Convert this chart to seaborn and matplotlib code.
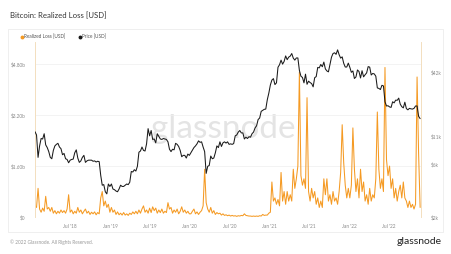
import numpy as np
import pandas as pd
import matplotlib
matplotlib.use("Agg")
import matplotlib.pyplot as plt
import matplotlib.dates as mdates
from matplotlib.lines import Line2D
from matplotlib.patches import Rectangle
import seaborn as sns

# ---------------- data (weekly samples) ----------------
start_date = "2018-01-22"

price_2018 = [12000, 11200, 7000, 8900, 10400, 10300, 11500, 9100, 8600, 7900,
              7000, 6800, 8100, 8900, 9200, 9400, 8700, 8400, 7400, 7600,
              6800, 6700, 6250, 6600, 6700, 6750, 7700, 8200, 6900, 6300,
              6500, 7000, 7300, 6300, 6500, 6600, 6600, 6600, 6450, 6500,
              6350, 6450, 6400, 4800, 3900, 3950, 3400, 3250, 4000, 3800]
price_2019 = [4000, 3600, 3550, 3450, 3400, 3600, 3900, 3800, 3800, 3900,
              4000, 3950, 4150, 5200, 5150, 5400, 5250, 5800, 7800, 8000,
              8700, 8100, 8000, 9300, 12800, 11000, 12300, 10200, 10300, 9500,
              11500, 10900, 10300, 10200, 10400, 10300, 10200, 9700, 8300, 7900,
              8300, 8200, 9400, 9200, 8800, 8100, 7100, 7300, 7300, 6900,
              7500, 7300]
price_2020 = [7700, 8100, 8600, 8900, 9300, 9900, 9600, 9700, 8700, 7900,
              5000, 5800, 5900, 7200, 6800, 6900, 7700, 8900, 8600, 9700,
              8800, 9500, 9700, 9450, 9700, 9200, 9300, 9200, 9350, 11000,
              11200, 11900, 12300, 11700, 11700, 10300, 10700, 10400, 10800, 10700,
              11500, 11900, 13000, 13600, 15500, 16000, 18400, 18800, 19200, 19300,
              23500, 27000]
price_2021 = [32000, 35500, 36600, 32300, 33500, 46500, 49000, 54000, 49600, 52500,
              59000, 54500, 57500, 58700, 62000, 56300, 54000, 56500, 56500, 43500,
              38500, 37500, 33500, 40200, 32500, 34700, 33700, 33000, 30800, 37300,
              38200, 46300, 45900, 49300, 47000, 51800, 44900, 43000, 42200, 49200,
              57400, 62000, 63000, 61000, 67000, 60500, 56300, 57800, 50500, 46700,
              46700, 50700]
price_2022 = [46400, 41800, 43000, 36700, 37900, 43900, 42500, 37100, 43200, 38000,
              39700, 41300, 47100, 46600, 39500, 40800, 40400, 38500, 30100, 29800,
              29100, 31800, 31400, 22500, 20600, 20700, 20200, 20000, 22500, 22000,
              23300, 23200, 24300, 21400, 20300, 19800, 22300, 19500, 19000, 19600,
              19400, 19300, 19600, 20600, 20600, 16600, 15800]

loss_2018 = [0.35, 0.30, 0.90, 0.25, 0.15, 0.28, 0.18, 0.65, 0.25, 0.30,
             0.18, 0.30, 0.12, 0.20, 0.10, 0.18, 0.12, 0.22, 0.14, 0.20,
             0.12, 0.25, 0.70, 0.15, 0.22, 0.10, 0.18, 0.12, 0.30, 0.15,
             0.22, 0.10, 0.18, 0.25, 0.12, 0.18, 0.08, 0.15, 0.10, 0.16,
             0.07, 0.14, 0.10, 0.60, 0.80, 0.35, 0.50, 0.30, 0.40, 0.15]
loss_2019 = [0.30, 0.15, 0.22, 0.08, 0.16, 0.07, 0.12, 0.06, 0.14, 0.06,
             0.10, 0.05, 0.12, 0.08, 0.16, 0.10, 0.18, 0.10, 0.22, 0.12,
             0.25, 0.35, 0.15, 0.22, 0.12, 0.28, 0.14, 0.32, 0.20, 0.28,
             0.12, 0.22, 0.14, 0.25, 0.12, 0.18, 0.14, 0.45, 0.25, 0.30,
             0.12, 0.22, 0.15, 0.25, 0.10, 0.18, 0.32, 0.15, 0.22, 0.12,
             0.18, 0.10]
loss_2020 = [0.10, 0.18, 0.25, 0.10, 0.16, 0.08, 0.15, 0.20, 0.35, 1.50,
             0.45, 0.25, 0.15, 0.30, 0.12, 0.20, 0.08, 0.14, 0.10, 0.12,
             0.06, 0.10, 0.05, 0.07, 0.04, 0.06, 0.03, 0.05, 0.03, 0.04,
             0.02, 0.04, 0.03, 0.05, 0.04, 0.10, 0.05, 0.04, 0.03, 0.03,
             0.02, 0.03, 0.02, 0.03, 0.02, 0.04, 0.03, 0.08, 0.05, 0.06,
             0.06, 0.12]
loss_2021 = [0.15, 1.10, 0.50, 0.60, 0.40, 0.55, 0.35, 1.40, 0.50, 0.80,
             0.40, 0.80, 0.50, 0.70, 0.50, 1.50, 0.90, 1.20, 1.60, 4.55,
             1.30, 1.00, 1.20, 0.90, 3.75, 0.80, 0.50, 0.90, 0.60, 0.80,
             0.40, 0.60, 0.30, 0.50, 0.30, 1.20, 0.70, 1.20, 0.50, 0.70,
             0.40, 0.80, 0.50, 0.60, 0.40, 0.80, 1.40, 2.90, 1.70, 1.00,
             0.60, 0.90]
loss_2022 = [0.60, 1.00, 2.80, 1.50, 0.80, 1.20, 0.60, 1.50, 0.80, 1.10,
             0.50, 0.70, 0.40, 0.90, 0.50, 0.70, 0.60, 1.20, 3.30, 1.50,
             0.90, 1.20, 0.80, 4.70, 1.80, 1.30, 1.60, 0.90, 1.20, 0.60,
             0.90, 0.50, 0.80, 1.00, 0.60, 1.10, 0.60, 0.50, 0.30, 0.50,
             0.30, 0.40, 0.25, 0.40, 4.40, 2.00, 0.30]

loss_ticks = [0, 1.6e9, 3.2e9, 4.8e9]
loss_labels = ["$0", "$1.60b", "$3.20b", "$4.80b"]
price_ticks = [2000, 6000, 11000, 42000]
price_labels = ["$2k", "$6k", "$11k", "$42k"]

title = "Bitcoin: Realized Loss [USD]"
legend_labels = ["Realized Loss [USD]", "Price [USD]"]
footer = "\u00a9 2022 Glassnode. All Rights Reserved."

# ---------------- build table ----------------
price = price_2018 + price_2019 + price_2020 + price_2021 + price_2022
loss_b = loss_2018 + loss_2019 + loss_2020 + loss_2021 + loss_2022
n = min(len(price), len(loss_b))
df = pd.DataFrame({
    "date": pd.date_range(start_date, periods=n, freq="7D"),
    "price": price[:n],
    "loss": np.array(loss_b[:n]) * 1e9,
})

ORANGE = "#F59A23"
BLACK = "#1a1a1a"
GRAY = "#8a8a8a"

sns.set_theme(style="white")
plt.rcParams["font.family"] = ["Lato", "DejaVu Sans"]

W, H = 451, 254
fig = plt.figure(figsize=(W / 100, H / 100), dpi=100)
fig.patch.set_facecolor("white")

# panel border
fig.patches.append(Rectangle((8 / W, 1 - 232 / H), 435 / W, 203 / H,
                             transform=fig.transFigure, fill=False,
                             edgecolor="#ececec", linewidth=0.6, zorder=0))

ax = fig.add_axes([35 / W, 1 - 217 / H, 386 / W, 175 / H])
ax.set_facecolor("none")
ax2 = ax.twinx()

# watermark
ax.text(0.488, 0.50, "glassnode", transform=ax.transAxes, ha="center",
        va="center", fontsize=24, color="#e4e4e4", zorder=0)

sns.lineplot(data=df, x="date", y="loss", ax=ax, color=ORANGE, linewidth=0.75,
             zorder=2)
sns.lineplot(data=df, x="date", y="price", ax=ax2, color=BLACK, linewidth=0.75,
             zorder=3)

ax.set_xlim(pd.Timestamp("2018-01-22"), pd.Timestamp("2022-11-25"))
ax.set_ylim(0, 5.5e9)
ax2.set_yscale("log")
ax2.set_ylim(2100, 79000)

ax.set_yticks(loss_ticks)
ax.set_yticklabels(loss_labels)
ax2.set_yticks(price_ticks)
ax2.set_yticklabels(price_labels)
ax2.minorticks_off()

ax.xaxis.set_major_locator(mdates.MonthLocator(bymonth=[1, 7]))
ax.xaxis.set_major_formatter(mdates.DateFormatter("%b '%y"))

for a in (ax, ax2):
    a.set_xlabel("")
    a.set_ylabel("")
    a.tick_params(axis="both", length=0, labelsize=3.4, labelcolor=GRAY, pad=7)
    for s in ("top", "bottom"):
        a.spines[s].set_visible(False)
    for s in ("left", "right"):
        a.spines[s].set_color("#f3dfbf")
        a.spines[s].set_linewidth(0.6)
ax.tick_params(axis="x", pad=5)
ax.grid(axis="y", color="#efefef", linewidth=0.5)
ax.grid(axis="x", visible=False)
ax2.grid(False)
if ax.get_legend():
    ax.get_legend().remove()

# title
fig.text(10 / W, 1 - 16 / H, title, fontsize=5.6, color="#333333",
         va="center", ha="left")

# legend
handles = [Line2D([], [], marker="o", linestyle="", color=ORANGE, markersize=1.8),
           Line2D([], [], marker="o", linestyle="", color=BLACK, markersize=1.8)]
fig.legend(handles, legend_labels, loc="center left",
           bbox_to_anchor=(16 / W, 1 - 37 / H), ncol=2, frameon=False,
           fontsize=3.4, handletextpad=0.1, columnspacing=2.5,
           handlelength=0.8, labelcolor="#555555")

# footer
fig.text(10 / W, 1 - 242 / H, footer, fontsize=3.4, color="#999999",
         va="center", ha="left")
fig.text(442 / W, 1 - 241 / H, "glassnode", fontsize=7.5, color="#222222",
         va="center", ha="right")

fig.savefig("out.png", dpi=100, facecolor="white")
